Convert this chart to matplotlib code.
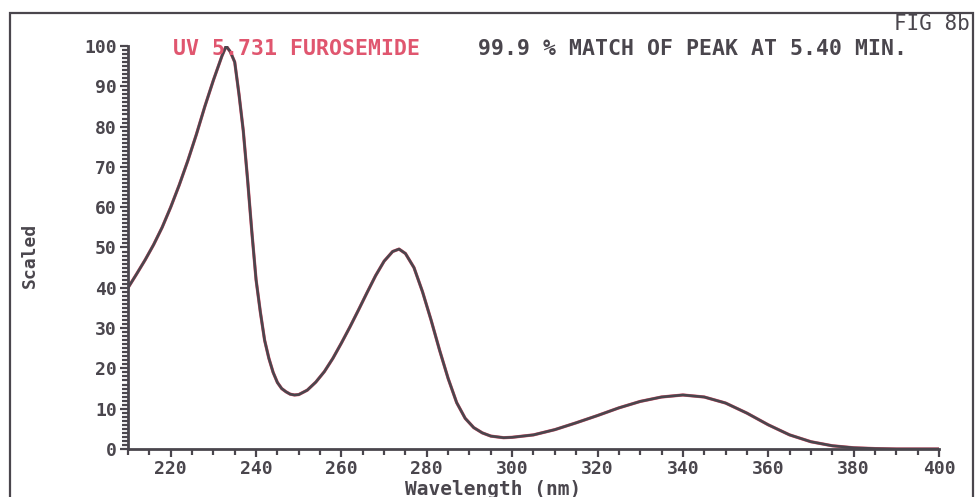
import numpy as np
import matplotlib
matplotlib.use('Agg')
import matplotlib.pyplot as plt
from matplotlib.ticker import MultipleLocator
from matplotlib.patches import Rectangle

# UV spectrum of the peak (wavelength in nm, scaled absorbance in %)
wavelength = [210, 212, 214, 216, 218, 220, 222, 224, 226, 228, 230, 232, 233,
              234, 235, 236, 237, 238, 239, 240, 241, 242, 243, 244, 245, 246,
              247, 248, 249, 250, 252, 254, 256, 258, 260, 262, 264, 266, 268,
              270, 272, 273.5, 275, 277, 279, 281, 283, 285, 287, 289, 291,
              293, 295, 298, 300, 305, 310, 315, 320, 325, 330, 335, 340, 345,
              350, 355, 360, 365, 370, 375, 380, 385, 390, 400]
scaled = [40, 43.4, 46.9, 50.7, 55, 60, 65.5, 71.5, 78, 85, 91.5, 97.5, 100,
          98.5, 96, 88, 79, 67, 54, 42, 34, 27, 22.5, 19, 16.5, 15,
          14.2, 13.6, 13.4, 13.5, 14.6, 16.6, 19.2, 22.5, 26.3, 30.3, 34.5, 38.8, 43,
          46.6, 49, 49.6, 48.5, 45, 39, 32, 24.5, 17.5, 11.5, 7.6, 5.3,
          4, 3.2, 2.8, 2.9, 3.5, 4.8, 6.5, 8.3, 10.2, 11.8, 12.9, 13.4, 12.9,
          11.4, 8.9, 6, 3.5, 1.8, 0.8, 0.3, 0.1, 0, 0]

xticks = [220, 240, 260, 280, 300, 320, 340, 360, 380, 400]
yticks = [0, 10, 20, 30, 40, 50, 60, 70, 80, 90, 100]

ink = '#4a464d'
red = '#e0566f'
font = ['DejaVu Sans Mono']

fig = plt.figure(figsize=(9.78, 4.97), dpi=100)
ax = fig.add_axes([0.1309, 0.0966, 0.8292, 0.8109])

# library spectrum (red) with the measured one drawn over it
ax.plot(wavelength, scaled, color=red, lw=2.3, solid_joinstyle='round')
ax.plot(wavelength, scaled, color=ink, lw=1.9, solid_joinstyle='round')

ax.set_xlim(210, 400)
ax.set_ylim(0, 100)
ax.set_xticks(xticks)
ax.set_yticks(yticks)
ax.xaxis.set_minor_locator(MultipleLocator(5))
ax.yaxis.set_minor_locator(MultipleLocator(1))
ax.set_xticklabels([str(v) for v in xticks])
ax.set_yticklabels([str(v) for v in yticks])

for s in ['top', 'right']:
    ax.spines[s].set_visible(False)
for s in ['left', 'bottom']:
    ax.spines[s].set_color(ink)
    ax.spines[s].set_linewidth(2)

ax.tick_params(axis='both', which='both', direction='out', color=ink,
               width=1.6, labelcolor=ink)
ax.tick_params(axis='x', which='major', length=6, pad=2)
ax.tick_params(axis='x', which='minor', length=4)
ax.tick_params(axis='y', which='major', length=6, pad=2)
ax.tick_params(axis='y', which='minor', length=4)
for lab in ax.get_xticklabels() + ax.get_yticklabels():
    lab.set_family(font)
    lab.set_fontweight('bold')
    lab.set_fontsize(13)

ax.set_xlabel('Wavelength (nm)', family=font, fontweight='bold', fontsize=14,
              color=ink, va='center')
ax.xaxis.set_label_coords(0.45, -0.1)
ax.set_ylabel('Scaled', family=font, fontweight='bold', fontsize=13,
              color=ink)
ax.yaxis.set_label_coords(-0.11, 0.48)

# header line
fig.text(0.303, 0.902, 'UV 5.731 FUROSEMIDE', family=font, fontweight='bold',
         fontsize=15.5, color=red, ha='center', va='center')
fig.text(0.708, 0.902, '99.9 % MATCH OF PEAK AT 5.40 MIN.', family=font,
         fontweight='bold', fontsize=15.5, color=ink, ha='center', va='center')
fig.text(0.992, 0.951, 'FIG 8b', family=font, fontsize=15, color=ink,
         ha='right', va='center')

# outer frame
fig.patches.append(Rectangle((0.0105, -0.01), 0.984, 0.983,
                             transform=fig.transFigure, fill=False,
                             edgecolor=ink, lw=1.6))

fig.savefig('out.png', dpi=100)
